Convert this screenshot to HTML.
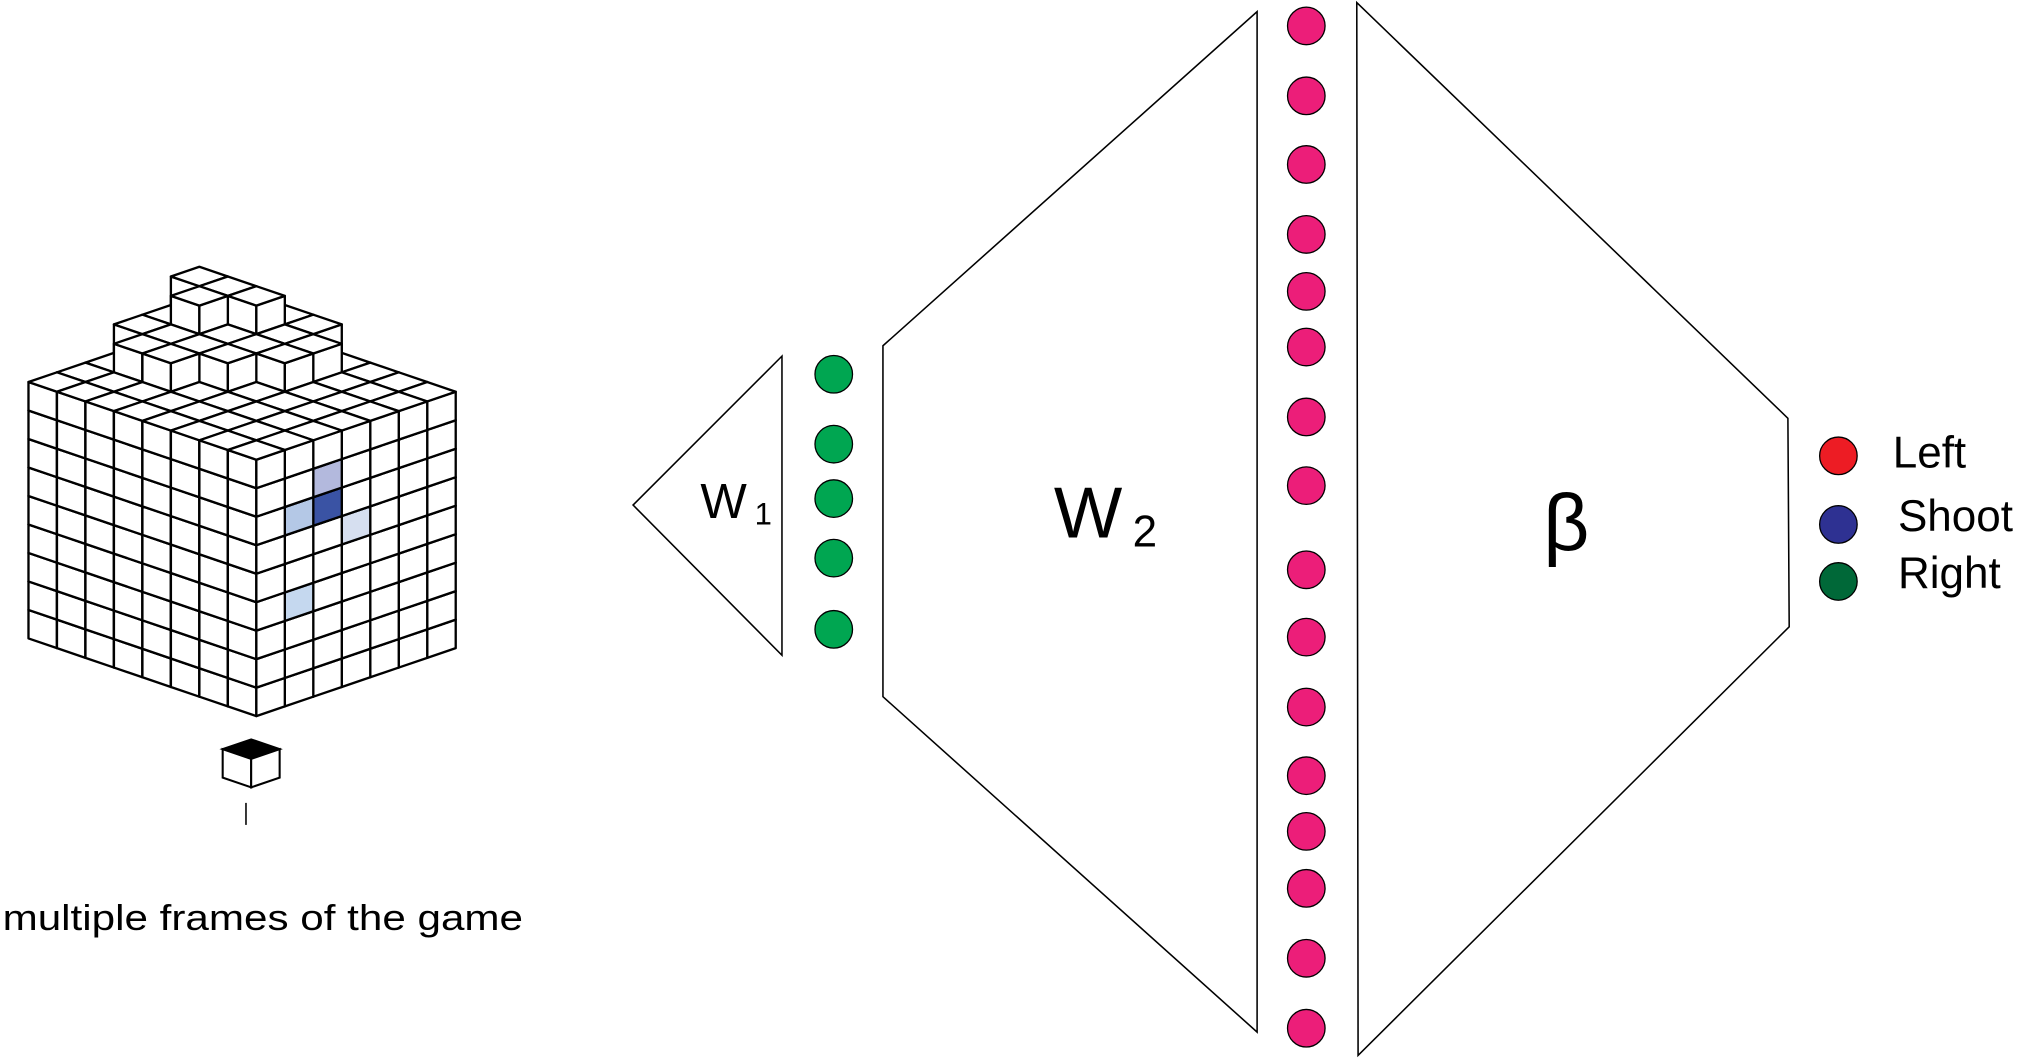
<!DOCTYPE html>
<html><head><meta charset="utf-8"><style>
html,body{margin:0;padding:0;background:#fff;}
svg{display:block;font-family:"Liberation Sans",sans-serif;}
</style></head><body>
<svg id="fig" width="2030" height="1058" viewBox="0 0 1568 817" preserveAspectRatio="none" xmlns="http://www.w3.org/2000/svg">
<g id="cubes"></g>
<g>
  <polygon points="194,586 172,578.5 194,571 216,578.5" fill="#000" stroke="#000" stroke-width="1.6"/>
  <polygon points="194,586 172,578.5 172,600.5 194,608" fill="#fff" stroke="#000" stroke-width="1.6"/>
  <polygon points="194,586 216,578.5 216,600.5 194,608" fill="#fff" stroke="#000" stroke-width="1.6"/>
  <line x1="190" y1="620" x2="190" y2="637" stroke="#000" stroke-width="1.2"/>
</g>
<text x="2" y="718" font-size="28" textLength="402" lengthAdjust="spacingAndGlyphs">multiple frames of the game</text>

<polygon points="604,275 489,390 604,506" fill="none" stroke="#000" stroke-width="1.2"/>
<text x="541" y="400" font-size="38">W<tspan font-size="24" dx="6" dy="5">1</tspan></text>

<polygon points="682,267 971,9 971,797 682,538" fill="none" stroke="#000" stroke-width="1.2"/>
<text x="814" y="415" font-size="56">W<tspan font-size="34" dx="8" dy="7">2</tspan></text>

<polygon points="1048,2 1381,323 1382,484 1049,815" fill="none" stroke="#000" stroke-width="1.2"/>
<text x="1192" y="425" font-size="62">β</text>

<g id="green"></g>
<g id="pink"></g>

<g>
  <circle cx="1420" cy="352" r="14.5" fill="#ed1c24" stroke="#000" stroke-width="1"/>
  <circle cx="1420" cy="405" r="14.5" fill="#2e3192" stroke="#000" stroke-width="1"/>
  <circle cx="1420" cy="449" r="14.5" fill="#006838" stroke="#000" stroke-width="1"/>
  <text x="1462" y="361" font-size="34">Left</text>
  <text x="1466" y="410" font-size="34">Shoot</text>
  <text x="1466" y="454" font-size="34">Right</text>
</g>
</svg>
<script>
const NS='http://www.w3.org/2000/svg';
const greenY=[289,343,385,431,486];
const pinkY=[20,74,127,181,225,268,322,375,440,492,546,599,642,686,740,794];
const heights=[
 [9,9,9,9,9,9,9],
 [9,9,9,9,9,9,9],
 [9,9,9,9,9,9,9],
 [9,9,9,9,10,10,9],
 [9,9,9,10,10,10,10],
 [9,9,10,10,10,11,10],
 [9,9,10,10,11,11,10],
 [9,9,9,10,10,11,10]
];
const highlights=[[1,6,'#b4c8e6'],[2,6,'#3a53a4'],[2,7,'#b3b9dd'],[3,5,'#d6dff0'],[1,3,'#c5d8ef']];

function circ(g,cx,cy,fill,name){
  const c=document.createElementNS(NS,'circle');
  c.setAttribute('cx',cx);c.setAttribute('cy',cy);c.setAttribute('r',14.5);
  c.setAttribute('fill',fill);c.setAttribute('stroke','#000');c.setAttribute('stroke-width',1);
  
  
  g.appendChild(c);
}
const gg=document.getElementById('green');
greenY.forEach(y=>circ(gg,644,y,'#00a651','green-node'));
const pg=document.getElementById('pink');
pinkY.forEach(y=>circ(pg,1009,y,'#ec1e79','pink-node'));

const X0=198,Y0=553,AX=22,AY=7.5,BX=22,BY=7.5,KH=22;
function P(a,b,k){return [X0+AX*a-BX*b, Y0-AY*a-BY*b-KH*k];}
function poly(g,pts,fill,name){
  const p=document.createElementNS(NS,'polygon');
  p.setAttribute('points',pts.map(q=>q[0].toFixed(1)+','+q[1].toFixed(1)).join(' '));
  p.setAttribute('fill',fill);p.setAttribute('stroke','#000');p.setAttribute('stroke-width',1.8);
  p.setAttribute('stroke-linejoin','round');
  
  
  g.appendChild(p);
}
const cg=document.getElementById('cubes');
const list=[];
for(let b=0;b<heights.length;b++)for(let a=0;a<heights[b].length;a++)for(let k=0;k<heights[b][a];k++)list.push([a,b,k]);
list.sort((u,v)=>(v[0]+v[1])-(u[0]+u[1])||u[2]-v[2]);
list.forEach(([a,b,k])=>{
  let fc='#fff';
  if(b===0) highlights.forEach(h=>{if(h[0]===a&&h[1]===k)fc=h[2];});
  poly(cg,[P(a,b,k),P(a,b+1,k),P(a,b+1,k+1),P(a,b,k+1)],'#fff','cube-left-face');
  poly(cg,[P(a,b,k),P(a+1,b,k),P(a+1,b,k+1),P(a,b,k+1)],fc,'cube-front-face');
  poly(cg,[P(a,b,k+1),P(a+1,b,k+1),P(a+1,b+1,k+1),P(a,b+1,k+1)],'#fff','cube-top-face');
});
</script>
</body></html>
